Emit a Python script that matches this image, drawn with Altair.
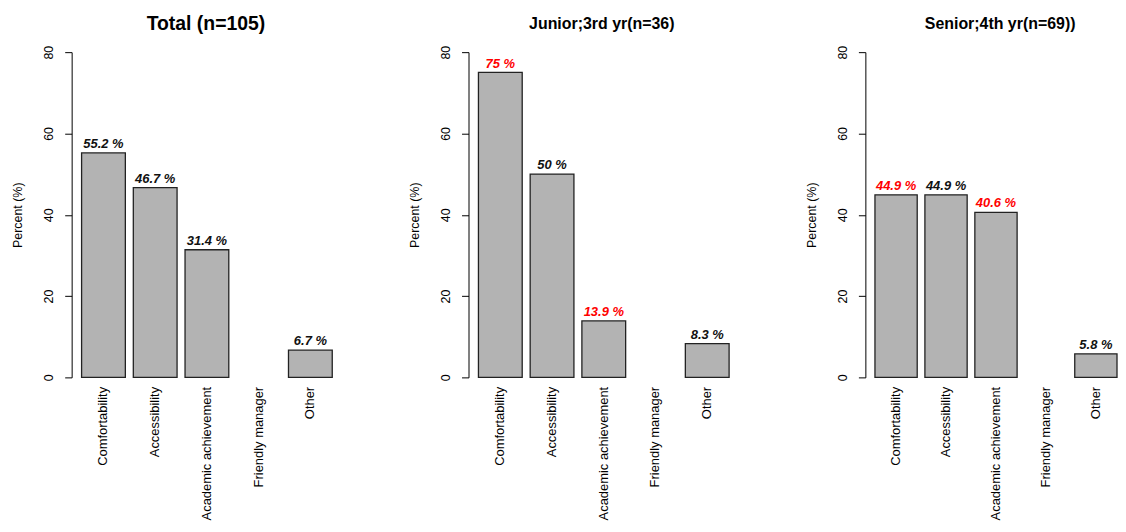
import altair as alt
import pandas as pd

categories = ["Comfortability", "Accessibility", "Academic achievement", "Friendly manager", "Other"]
panel_titles = ["Total (n=105)", "Junior;3rd yr(n=36)", "Senior;4th yr(n=69))"]
total_vals = [55.2, 46.7, 31.4, 0, 6.7]
junior_vals = [75, 50, 13.9, 0, 8.3]
senior_vals = [44.9, 44.9, 40.6, 0, 5.8]
total_lbl = ["55.2 %", "46.7 %", "31.4 %", "", "6.7 %"]
junior_lbl = ["75 %", "50 %", "13.9 %", "", "8.3 %"]
senior_lbl = ["44.9 %", "44.9 %", "40.6 %", "", "5.8 %"]
total_red = [False, False, False, False, False]
junior_red = [True, False, True, False, False]
senior_red = [True, False, True, False, False]
y_ticks = [0, 20, 40, 60, 80]

FONT = "Liberation Sans"


def panel(title, vals, lbls, reds, title_size, width, offset, dx):
    df = pd.DataFrame({"cat": categories, "val": vals, "lbl": lbls,
                       "col": ["red" if r else "black" for r in reds]})
    df = df[df["val"] > 0]
    x = alt.X("cat:N", sort=categories,
              scale=alt.Scale(domain=categories, paddingInner=0.154, paddingOuter=0.096, align=1),
              axis=alt.Axis(title=None, labelAngle=-90, labelAlign="right", labelBaseline="middle",
                            ticks=False, domain=False, labelPadding=9, labelFontSize=13,
                            labelFont=FONT, labelColor="black", labelLimit=300))
    y = alt.Y("val:Q", scale=alt.Scale(domain=[0, 80], nice=False, zero=True),
              axis=alt.Axis(title="Percent (%)", values=y_ticks, grid=False, tickSize=7,
                            labelAngle=-90, labelAlign="center", labelBaseline="bottom",
                            labelPadding=9, labelFontSize=12.5, labelFont=FONT, labelColor="black",
                            titleFont=FONT, titleFontSize=12.5, titleFontWeight="normal",
                            titleColor="black", titlePadding=18, domainColor="black",
                            tickColor="black", domainWidth=1, tickWidth=1))
    base = alt.Chart(df)
    bars = base.mark_bar(color="#B3B3B3", stroke="#222222", strokeWidth=1.3).encode(x=x, y=y)
    text = base.mark_text(baseline="alphabetic", dy=-5, font=FONT, fontSize=13,
                          fontWeight="bold", fontStyle="italic").encode(
        x=alt.X("cat:N", sort=categories), y=alt.Y("val:Q"),
        text="lbl:N",
        color=alt.Color("col:N", scale=alt.Scale(domain=["red", "black"], range=["#FF0000", "#111111"]),
                        legend=None))
    return (bars + text).properties(
        width=width, height=327,
        title=alt.TitleParams(title, fontSize=title_size, font=FONT, fontWeight="bold",
                              color="black", offset=offset, dx=dx, anchor="middle"))


p1 = panel(panel_titles[0], total_vals, total_lbl, total_red, 19.5, 262, 11, 4)
p2 = panel(panel_titles[1], junior_vals, junior_lbl, junior_red, 16, 262, 13, 3)
p3 = panel(panel_titles[2], senior_vals, senior_lbl, senior_red, 16, 253, 13, 9)

chart = alt.hconcat(p1, p2, p3, spacing=76).configure_view(stroke=None).properties(
    background="white", padding={"left": 4, "top": 4, "right": 0, "bottom": 0})

chart.save("out.html", embed_options={"renderer": "svg", "actions": False})
